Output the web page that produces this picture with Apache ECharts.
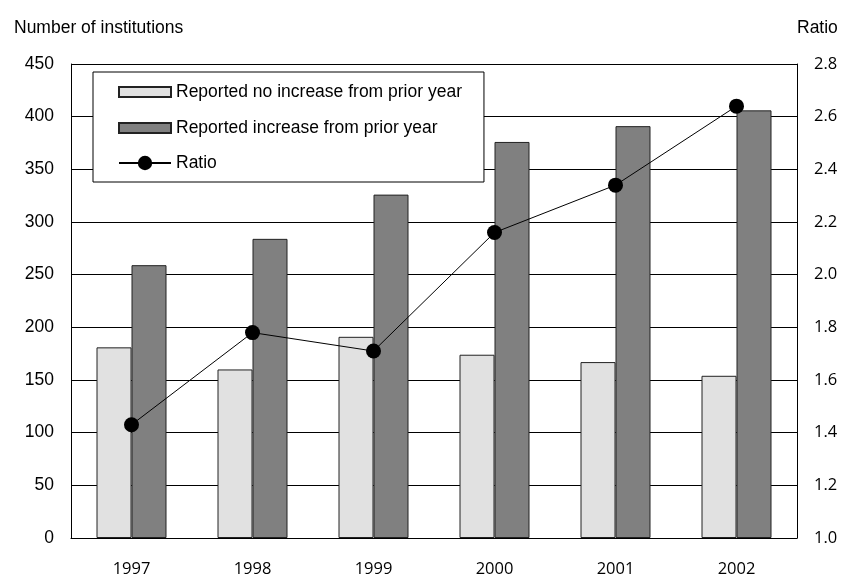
<!DOCTYPE html>
<html>
<head>
<meta charset="utf-8">
<script src="https://cdn.jsdelivr.net/npm/echarts@6/dist/echarts.min.js"></script>
<style>
html,body{margin:0;padding:0;background:#fff;}
#chart{width:843px;height:578px;}
</style>
</head>
<body>
<div id="chart"></div>
<script>
const years = ['1997', '1998', '1999', '2000', '2001', '2002'];
const noIncrease = [181, 160, 191, 174, 167, 154];
const increase = [259, 284, 326, 376, 391, 406];
const ratio = [1.43, 1.78, 1.71, 2.16, 2.34, 2.64];

const FONT = '"Liberation Sans", Arial, sans-serif';
const FONT2 = '"Open Sans", "Liberation Sans", sans-serif';
const chart = echarts.init(document.getElementById('chart'));
const barIcon = 'path://M0,0L0,0M0,4L52,4L52,14L0,14ZM52,18L52,18';
chart.setOption({
  animation: false,
  textStyle: { fontFamily: FONT, color: '#000' },
  title: [
    { text: 'Number of institutions', left: 9, top: 14, textStyle: { fontFamily: FONT, fontSize: 17.5, fontWeight: 'normal', color: '#000' } },
    { text: 'Ratio', left: 792, top: 14, textStyle: { fontFamily: FONT, fontSize: 17.5, fontWeight: 'normal', color: '#000' } }
  ],
  legend: {
    orient: 'vertical',
    left: 93,
    top: 72,
    padding: [10, 22, 10, 25],
    itemGap: 16,
    itemWidth: 52,
    itemHeight: 18,
    backgroundColor: '#fff',
    borderColor: '#000',
    borderWidth: 1,
    textStyle: { fontFamily: FONT, fontSize: 17.5, color: '#000', lineHeight: 18 },
    data: [
      { name: 'Reported no increase from prior year', icon: barIcon },
      { name: 'Reported increase from prior year', icon: barIcon },
      { name: 'Ratio' }
    ]
  },
  grid: { left: 71, right: 46, top: 64, bottom: 40 },
  xAxis: {
    type: 'category',
    data: years,
    axisLine: { lineStyle: { color: '#000', width: 1 } },
    axisTick: { show: false },
    axisLabel: { fontFamily: FONT2, fontSize: 16.5, color: '#000', margin: 23 }
  },
  yAxis: [
    {
      type: 'value', min: 0, max: 450, interval: 50,
      axisLine: { show: true, lineStyle: { color: '#000' } },
      axisTick: { show: false },
      axisLabel: { fontFamily: FONT, fontSize: 17.5, color: '#000', margin: 17 },
      splitLine: { lineStyle: { color: '#000', width: 1 } }
    },
    {
      type: 'value', min: 1.0, max: 2.8, interval: 0.2,
      axisLine: { show: true, lineStyle: { color: '#000' } },
      axisTick: { show: false },
      axisLabel: { fontFamily: FONT2, fontSize: 16.5, color: '#000', margin: 17, formatter: v => v.toFixed(1) },
      splitLine: { show: false }
    }
  ],
  series: [
    {
      name: 'Reported no increase from prior year',
      type: 'bar',
      data: noIncrease,
      barWidth: 35,
      barGap: '0%',
      itemStyle: { color: '#e1e1e1', borderColor: '#222', borderWidth: 1 }
    },
    {
      name: 'Reported increase from prior year',
      type: 'bar',
      data: increase,
      barWidth: 35,
      barGap: '0%',
      itemStyle: { color: '#808080', borderColor: '#222', borderWidth: 1 }
    },
    {
      name: 'Ratio',
      type: 'line',
      yAxisIndex: 1,
      data: ratio,
      symbol: 'circle',
      symbolSize: 15,
      z: 5,
      lineStyle: { color: '#000', width: 1 },
      itemStyle: { color: '#000' }
    }
  ]
});
</script>
</body>
</html>
